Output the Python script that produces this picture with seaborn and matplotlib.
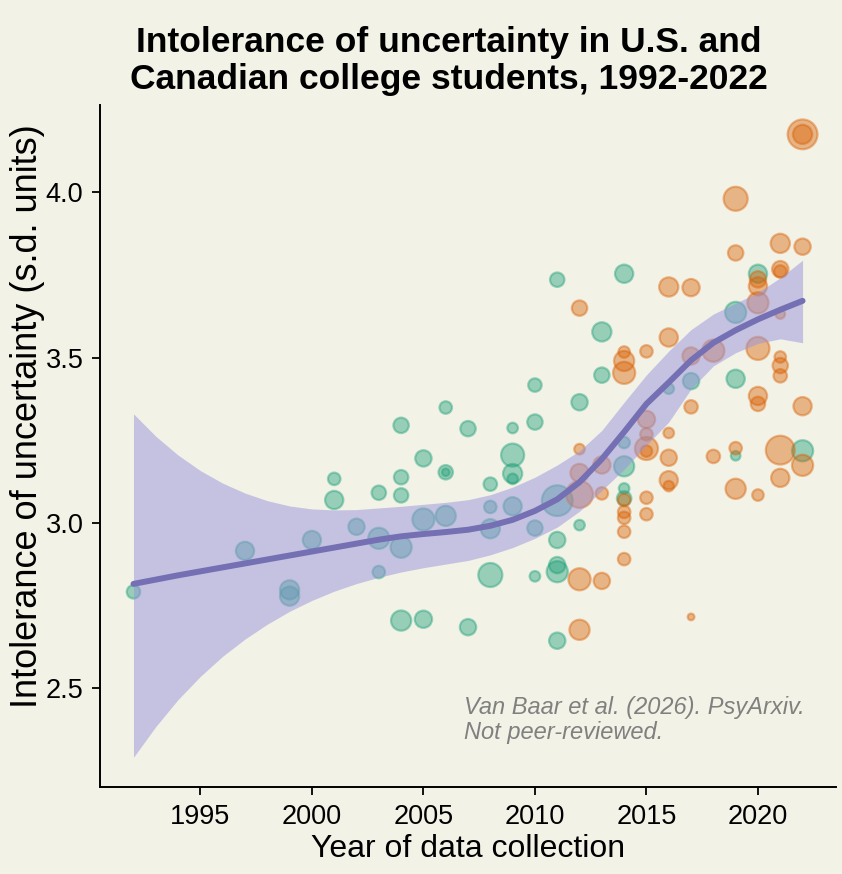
import numpy as np
import pandas as pd
import matplotlib
matplotlib.use('Agg')
import matplotlib.pyplot as plt
import seaborn as sns

# ---- data ----
green_year = [1992, 1997, 1999, 1999, 2000, 2001, 2001, 2002, 2003, 2003, 2003,
              2004, 2004, 2004, 2004, 2004, 2005, 2005, 2005, 2006, 2006, 2006, 2006,
              2007, 2007, 2008, 2008, 2008, 2008, 2009, 2009, 2009, 2009, 2009,
              2010, 2010, 2010, 2010, 2011, 2011, 2011, 2011, 2011, 2011,
              2012, 2012, 2013, 2013, 2014, 2014, 2014, 2014, 2014,
              2016, 2017, 2019, 2019, 2019, 2020, 2022]
green_val = [2.791, 2.915, 2.797, 2.778, 2.948, 3.133, 3.069, 2.988, 2.953, 2.851, 3.091,
             3.295, 3.138, 3.083, 2.926, 2.704, 3.010, 3.195, 2.708, 3.021, 3.349, 3.153, 3.153,
             3.285, 2.684, 3.117, 3.048, 2.982, 2.842, 3.287, 3.205, 3.149, 3.133, 3.050,
             3.417, 3.305, 2.984, 2.838, 3.736, 3.067, 2.948, 2.872, 2.852, 2.643,
             3.365, 2.993, 3.578, 3.447, 3.754, 3.243, 3.171, 3.104, 3.074,
             3.406, 3.429, 3.637, 3.436, 3.203, 3.754, 3.218]
green_n = [196, 361, 400, 400, 361, 169, 361, 289, 484, 169, 225,
           256, 225, 225, 484, 441, 529, 289, 324, 441, 169, 225, 64,
           256, 289, 196, 169, 400, 625, 121, 576, 400, 121, 361,
           196, 256, 256, 121, 225, 1024, 289, 289, 484, 289,
           289, 121, 400, 256, 361, 144, 441, 121, 225,
           121, 289, 484, 361, 100, 361, 484]

orange_year = [2012, 2012, 2012, 2012, 2012, 2012, 2013, 2013, 2013,
               2014, 2014, 2014, 2014, 2014, 2014, 2014, 2014,
               2015, 2015, 2015, 2015, 2015, 2015, 2015,
               2016, 2016, 2016, 2016, 2016, 2016, 2017, 2017, 2017, 2017,
               2018, 2018, 2019, 2019, 2019, 2019,
               2020, 2020, 2020, 2020, 2020, 2020, 2020,
               2021, 2021, 2021, 2021, 2021, 2021, 2021, 2021, 2021,
               2022, 2022, 2022, 2022, 2022]
orange_val = [3.650, 3.223, 3.151, 3.086, 2.829, 2.676, 3.175, 3.089, 2.824,
              3.517, 3.490, 3.454, 3.069, 3.033, 3.015, 2.973, 2.890,
              3.519, 3.313, 3.268, 3.225, 3.217, 3.076, 3.026,
              3.714, 3.561, 3.272, 3.197, 3.129, 3.111, 3.712, 3.505, 3.351, 2.715,
              3.521, 3.201, 3.981, 3.817, 3.226, 3.103,
              3.716, 3.737, 3.666, 3.528, 3.384, 3.360, 3.084,
              3.846, 3.768, 3.761, 3.632, 3.502, 3.476, 3.445, 3.220, 3.136,
              4.176, 4.176, 3.836, 3.353, 3.174]
orange_n = [256, 121, 361, 784, 529, 441, 324, 169, 289,
            144, 441, 529, 169, 169, 169, 169, 169,
            169, 324, 169, 576, 144, 169, 169,
            400, 361, 121, 289, 361, 121, 324, 324, 196, 49,
            529, 196, 625, 256, 169, 441,
            361, 289, 484, 576, 361, 225, 144,
            400, 289, 169, 100, 144, 256, 196, 900, 361,
            961, 400, 289, 361, 484]

# smooth trend with confidence band
fit_year = list(range(1992, 2023))
fit_mid = [2.815, 2.828, 2.841, 2.853, 2.865, 2.877, 2.889, 2.901, 2.913, 2.925,
           2.937, 2.949, 2.959, 2.966, 2.972, 2.979, 2.991, 3.009, 3.036, 3.071,
           3.123, 3.193, 3.275, 3.360, 3.425, 3.492, 3.545, 3.583, 3.616, 3.645, 3.672]
fit_hi = [3.33, 3.262, 3.205, 3.158, 3.12, 3.09, 3.067, 3.051, 3.042, 3.039,
          3.040, 3.045, 3.050, 3.056, 3.062, 3.07, 3.085, 3.108, 3.138, 3.175,
          3.218, 3.28, 3.365, 3.448, 3.52, 3.585, 3.632, 3.665, 3.697, 3.742, 3.795]
fit_lo = [2.29, 2.383, 2.465, 2.535, 2.596, 2.648, 2.693, 2.732, 2.765, 2.793,
          2.816, 2.835, 2.851, 2.864, 2.875, 2.886, 2.903, 2.925, 2.953, 2.987,
          3.035, 3.098, 3.162, 3.235, 3.305, 3.405, 3.475, 3.515, 3.543, 3.557, 3.545]

df = pd.concat([
    pd.DataFrame({'year': green_year, 'iu': green_val, 'n': green_n, 'set': 'A'}),
    pd.DataFrame({'year': orange_year, 'iu': orange_val, 'n': orange_n, 'set': 'B'}),
], ignore_index=True)
fit = pd.DataFrame({'year': fit_year, 'mid': fit_mid, 'lo': fit_lo, 'hi': fit_hi})

bg = '#f2f2e6'
sns.set_theme(style='ticks', rc={'axes.facecolor': bg, 'figure.facecolor': bg,
                                 'text.color': 'black', 'axes.labelcolor': 'black',
                                 'xtick.color': 'black', 'ytick.color': 'black',
                                 'axes.edgecolor': 'black'})
plt.rcParams['font.family'] = ['Liberation Sans', 'DejaVu Sans']

fig, ax = plt.subplots(figsize=(8.42, 8.74), dpi=100)
fig.subplots_adjust(left=0.1188, right=0.9929, bottom=0.0995, top=0.8799)

nmin, nmax = min(df['n']), max(df['n'])
k = 0.48
sns.scatterplot(data=df, x='year', y='iu', hue='set', size='n',
                palette={'A': '#1b9e77', 'B': '#d95f02'},
                sizes=(k * nmin, k * nmax), size_norm=(nmin, nmax),
                alpha=0.42, edgecolor='face', linewidth=1.6,
                legend=False, ax=ax, zorder=2)

ax.fill_between(fit['year'], fit['lo'], fit['hi'], color='#9894dc', alpha=0.5,
                linewidth=0, zorder=3)
sns.lineplot(data=fit, x='year', y='mid', color='#7570b3', linewidth=4.3,
             ax=ax, zorder=4)

ax.set_xlim(1990.5, 2023.5)
ax.set_ylim(2.2, 4.265)
ax.set_xticks([1995, 2000, 2005, 2010, 2015, 2020])
ax.set_yticks([2.5, 3.0, 3.5, 4.0])
ax.set_yticklabels(['2.5', '3.0', '3.5', '4.0'])
ax.tick_params(labelsize=19.5, length=6, width=1.3, color='black', pad=6)
ax.set_xlabel('Year of data collection', fontsize=23, labelpad=3)
ax.set_ylabel('Intolerance of uncertainty (s.d. units)', fontsize=26)
ax.yaxis.set_label_coords(-0.075, 0.544)
sns.despine(ax=ax)
for s in ['left', 'bottom']:
    ax.spines[s].set_linewidth(1.4)

fig.text(0.533, 1 - 61 / 874, 'Intolerance of uncertainty in U.S. and\nCanadian college students, 1992-2022',
         ha='center', va='center', fontsize=25.5, fontweight='bold', linespacing=1.15)

ax.text(0.495, 0.1335, 'Van Baar et al. (2026). PsyArxiv.\nNot peer-reviewed.',
        transform=ax.transAxes, ha='left', va='top', fontsize=17,
        style='italic', color='#808080', linespacing=1.12)

fig.savefig('out.png', dpi=100, facecolor=bg)
